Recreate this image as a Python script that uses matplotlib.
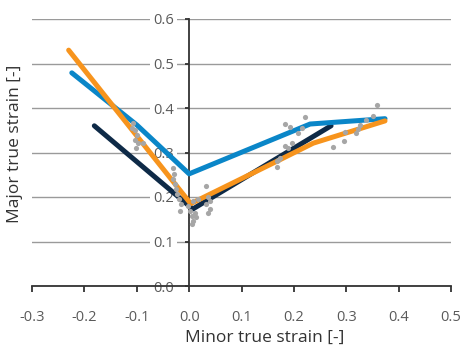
import matplotlib
matplotlib.use('Agg')
import matplotlib.pyplot as plt

plt.rcParams['font.family'] = ['Open Sans', 'DejaVu Sans']

# strain paths (minor, major)
orange_x = [-0.23, 0.003, 0.167, 0.237, 0.30, 0.374]
orange_y = [0.53, 0.185, 0.28, 0.321, 0.344, 0.371]
blue_x = [-0.224, -0.1, 0.0, 0.231, 0.374]
blue_y = [0.479, 0.362, 0.252, 0.364, 0.376]
navy_x = [-0.181, 0.007, 0.271]
navy_y = [0.36, 0.173, 0.36]

# measured points
pts_x = [-0.107, -0.103, -0.100, -0.103, -0.097, -0.102, -0.088, -0.110,
         -0.030, -0.029, -0.030, -0.027, -0.025, -0.023, -0.019, -0.016, -0.018,
         -0.002, 0.0015, 0.005, 0.008, 0.005, 0.011, 0.014, 0.008, 0.017,
         0.033, 0.036, 0.040, 0.033, 0.040, 0.036,
         0.183, 0.192, 0.221, 0.215, 0.208, 0.196, 0.183, 0.189, 0.170, 0.167, 0.168, 0.173,
         0.274, 0.296, 0.297, 0.318, 0.322, 0.326, 0.337, 0.351, 0.358]
pts_y = [0.366, 0.351, 0.340, 0.329, 0.321, 0.310, 0.321, 0.355,
         0.266, 0.251, 0.240, 0.229, 0.218, 0.206, 0.195, 0.184, 0.169,
         0.180, 0.169, 0.158, 0.147, 0.140, 0.165, 0.154, 0.192, 0.195,
         0.225, 0.199, 0.192, 0.184, 0.173, 0.165,
         0.364, 0.358, 0.379, 0.356, 0.344, 0.321, 0.314, 0.309, 0.284, 0.281, 0.267, 0.288,
         0.313, 0.325, 0.345, 0.344, 0.353, 0.362, 0.373, 0.383, 0.407]

xticks = [-0.3, -0.2, -0.1, 0.0, 0.1, 0.2, 0.3, 0.4, 0.5]
yticks = [0.0, 0.1, 0.2, 0.3, 0.4, 0.5, 0.6]

fig = plt.figure(figsize=(4.62, 3.5), dpi=100)
ax = fig.add_axes([32 / 462, 64 / 350, 419 / 462, 267 / 350])
ax.set_axisbelow(True)

ax.plot(navy_x, navy_y, color='#0e2a47', lw=3.6, solid_capstyle='round', zorder=2)
ax.plot(blue_x, blue_y, color='#0a86c8', lw=3.6, solid_capstyle='round', zorder=3)
ax.plot(orange_x, orange_y, color='#f7941d', lw=3.6, solid_capstyle='round', zorder=4)
ax.scatter(pts_x, pts_y, s=14, color='#a6a6a6', zorder=5, linewidths=0)

ax.set_xlim(-0.3, 0.5)
ax.set_ylim(0, 0.6)
ax.set_xticks(xticks)
ax.set_xticklabels(['%.1f' % v for v in xticks])
ax.set_yticks(yticks)
ax.set_yticklabels(['%.1f' % v for v in yticks])

ax.spines['left'].set_position(('data', 0))
ax.spines['right'].set_visible(False)
ax.spines['top'].set_visible(False)
for s in ['left', 'bottom']:
    ax.spines[s].set_color('#333333')
    ax.spines[s].set_linewidth(1.3)

ax.yaxis.grid(True, color='#9a9a9a', lw=1.0)
ax.tick_params(axis='x', direction='out', length=4.5, width=1.3, color='#333333',
               pad=13, labelsize=10.5, labelcolor='#5a5a5a')
ax.tick_params(axis='y', direction='out', length=3, width=1.3, color='#333333',
               pad=8, labelsize=10.5, labelcolor='#5a5a5a')
for lab in ax.get_yticklabels():
    lab.set_bbox(dict(facecolor='white', edgecolor='none', pad=2))

fig.text(265 / 462, 12 / 350, 'Minor true strain [-]', ha='center', va='center',
         fontsize=12.5, color='#333333')
fig.text(15 / 462, 206 / 350, 'Major true strain [-]', ha='center', va='center',
         rotation=90, fontsize=12.5, color='#333333')

fig.savefig('out.png', dpi=100)
